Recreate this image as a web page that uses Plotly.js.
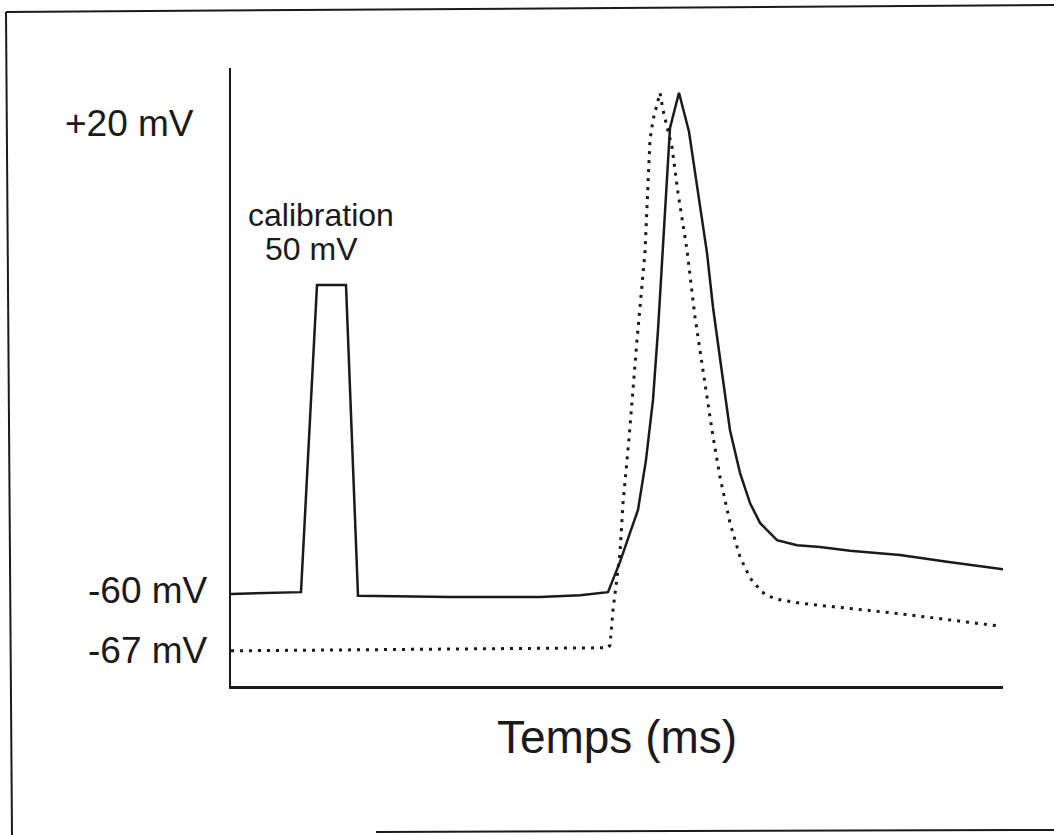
<!DOCTYPE html>
<html>
<head>
<meta charset="utf-8">
<script src="https://cdn.plot.ly/plotly-3.0.1.min.js"></script>
<style>html,body{margin:0;padding:0;background:#fff;}#chart{width:1054px;height:835px;}</style>
</head>
<body>
<div id="chart"></div>
<script>
// Time (arbitrary ms) and membrane potential (mV, scaled from the 50 mV calibration pulse)
var timeSolid = [0, 7.0, 8.6, 11.5, 12.7, 21.9, 30.9, 34.9, 37.7, 38.9, 39.9, 40.7, 41.5, 42.2, 42.7, 43.2, 43.9, 44.8, 45.8, 47.6, 48.2, 49.1, 49.9, 50.9, 51.9, 52.9, 54.6, 56.6, 58.9, 61.9, 66.9, 71.6, 75.9, 77.2];
var vSolid    = [-60, -59.7, -10.0, -10.0, -60.3, -60.5, -60.5, -60.2, -59.7, -54.8, -50.1, -46.4, -38.3, -28.6, -17.3, -4.3, 15.4, 21.1, 14.8, -4.8, -13.6, -24.2, -33.5, -40.4, -45.3, -48.5, -51.3, -52.1, -52.4, -53.0, -53.7, -54.8, -55.8, -56.0];

var timeDotted = [0, 37.7, 37.9, 38.2, 38.9, 39.2, 39.8, 40.6, 41.4, 41.7, 41.9, 42.2, 42.9, 43.2, 44.1, 44.7, 45.6, 46.4, 47.2, 48.1, 48.9, 49.9, 50.9, 51.9, 53.1, 54.4, 56.9, 61.9, 66.9, 71.9, 76.9];
var vDotted    = [-69.2, -68.7, -68.3, -62.6, -53.4, -45.3, -34.9, -18.9, -4.7, 5.9, 13.5, 16.7, 21.1, 18.3, 12.3, 4.9, -4.3, -15.2, -24.2, -33.5, -41.1, -48.5, -54.0, -57.4, -59.7, -60.8, -61.5, -62.3, -63.2, -64.2, -65.2];

var levelLabels = ["+20 mV", "-60 mV", "-67 mV"];
var calibLabels = ["calibration", "50 mV"];
var xTitle = "Temps (ms)";

var FONT = "Liberation Sans, Arial, Helvetica, sans-serif";
var INK = "#1a1a1a";

var traces = [
  {x: timeSolid, y: vSolid, mode: "lines", type: "scatter", line: {color: INK, width: 2.5}, hoverinfo: "skip"},
  {x: timeDotted, y: vDotted, mode: "lines", type: "scatter", line: {color: INK, width: 3, dash: "3px,6px"}, hoverinfo: "skip"}
];

function pl(px) { return (px - 231) / 772; }
function pv(py) { return (686 - py) / 618; }

var layout = {
  width: 1054, height: 835,
  margin: {l: 231, r: 51, t: 68, b: 149},
  paper_bgcolor: "#fff", plot_bgcolor: "#fff",
  showlegend: false,
  font: {family: FONT, color: INK},
  xaxis: {
    range: [0, 77.2], showgrid: false, zeroline: false, showticklabels: false, ticks: "",
    showline: true, linecolor: INK, linewidth: 2.5,
    title: {text: xTitle, font: {family: FONT, size: 46, color: INK}, standoff: 34}
  },
  yaxis: {
    range: [-74.89, 25.11], showgrid: false, zeroline: false, showticklabels: false, ticks: "",
    showline: true, linecolor: INK, linewidth: 2.5
  },
  annotations: [
    {text: levelLabels[0], xref: "paper", yref: "y", x: pl(196), y: 16.05, xanchor: "right", yanchor: "middle", showarrow: false, font: {size: 37, family: FONT, color: INK}},
    {text: levelLabels[1], xref: "paper", yref: "y", x: pl(210), y: -59.5, xanchor: "right", yanchor: "middle", showarrow: false, font: {size: 37, family: FONT, color: INK}},
    {text: levelLabels[2], xref: "paper", yref: "y", x: pl(210), y: -69.2, xanchor: "right", yanchor: "middle", showarrow: false, font: {size: 37, family: FONT, color: INK}},
    {text: calibLabels[0], xref: "x", yref: "y", x: 9.0, y: 1.33, xanchor: "center", yanchor: "middle", showarrow: false, font: {size: 32, family: FONT, color: INK}},
    {text: calibLabels[1], xref: "x", yref: "y", x: 8.0, y: -4.17, xanchor: "center", yanchor: "middle", showarrow: false, font: {size: 32, family: FONT, color: INK}}
  ],
  shapes: [
    {type: "line", xref: "paper", yref: "paper", x0: pl(6), y0: pv(12), x1: pl(12), y1: pv(836), line: {color: INK, width: 2}},
    {type: "line", xref: "paper", yref: "paper", x0: pl(6), y0: pv(12), x1: pl(1056), y1: pv(5), line: {color: INK, width: 2}},
    {type: "line", xref: "paper", yref: "paper", x0: pl(376), y0: pv(832), x1: pl(1056), y1: pv(830), line: {color: INK, width: 2}}
  ]
};

Plotly.newPlot("chart", traces, layout, {displayModeBar: false, staticPlot: true});
</script>
</body>
</html>
